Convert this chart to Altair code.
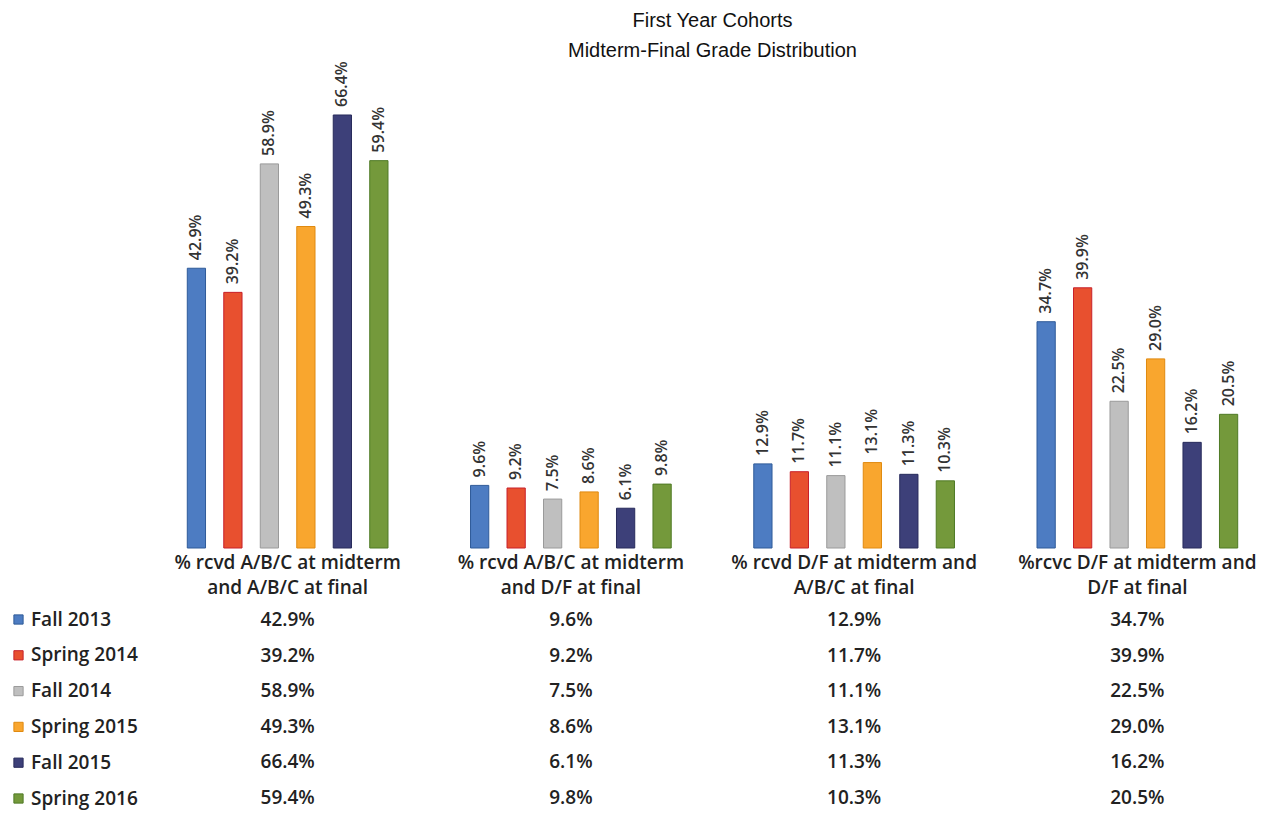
import altair as alt
import pandas as pd

groups = [
    "% rcvd A/B/C at midterm|and A/B/C at final",
    "% rcvd A/B/C at midterm|and D/F at final",
    "% rcvd D/F at midterm and|A/B/C at final",
    "%rcvc D/F at midterm and|D/F at final",
]
series = ["Fall 2013", "Spring 2014", "Fall 2014", "Spring 2015", "Fall 2015", "Spring 2016"]
fall_2013 = [42.9, 9.6, 12.9, 34.7]
spring_2014 = [39.2, 9.2, 11.7, 39.9]
fall_2014 = [58.9, 7.5, 11.1, 22.5]
spring_2015 = [49.3, 8.6, 13.1, 29.0]
fall_2015 = [66.4, 6.1, 11.3, 16.2]
spring_2016 = [59.4, 9.8, 10.3, 20.5]
fills = ["#4d7cc2", "#e8502f", "#bfbfbf", "#f9a62e", "#3d4079", "#74993b"]
strokes = ["#2f5b99", "#c8202a", "#9a9a9a", "#e08a10", "#282b5c", "#4f7a25"]

vals = [fall_2013, spring_2014, fall_2014, spring_2015, fall_2015, spring_2016]
rows = []
for s, v in zip(series, vals):
    for g, x in zip(groups, v):
        rows.append({"group": g, "series": s, "value": x})
df = pd.DataFrame(rows)

FONT = "Open Sans"

x_enc = alt.X("group:N", sort=groups,
              scale=alt.Scale(paddingInner=0.227, paddingOuter=0.05),
              axis=alt.Axis(title=None, orient="bottom", offset=-269, domain=False, ticks=False,
                            labelAngle=0, labelPadding=5, labelFontSize=19, labelFont=FONT,
                            labelFontWeight=600, labelColor="#222", labelLineHeight=25,
                            labelLimit=400, labelExpr="split(datum.label, '|')"))
xo_enc = alt.XOffset("series:N", sort=series,
                     scale=alt.Scale(paddingInner=0.5, paddingOuter=0.25))
y_scale = alt.Scale(domain=[-41.25, 73.30], zero=False, nice=False)

base = alt.Chart(df)

bars = base.mark_bar(strokeWidth=1).encode(
    x=x_enc,
    xOffset=xo_enc,
    y=alt.Y("value:Q", scale=y_scale, axis=None),
    y2=alt.Y2(datum=0),
    color=alt.Color("series:N", sort=series,
                    scale=alt.Scale(domain=series, range=fills),
                    legend=alt.Legend(title=None, orient="none", legendX=-155, legendY=540,
                                      symbolType="square", symbolSize=85,
                                      symbolStrokeWidth=1, labelFontSize=19, labelFont=FONT,
                                      labelFontWeight=600,
                                      labelColor="#222", rowPadding=15.8, labelOffset=3)),
    stroke=alt.Stroke("series:N", sort=series,
                      scale=alt.Scale(domain=series, range=strokes), legend=None),
)

labels = base.transform_calculate(
    lab="format(datum.value, '.1f') + '%'"
).mark_text(angle=270, align="left", baseline="middle", dx=8,
            font=FONT, fontSize=16, fontWeight=600, color="#333").encode(
    x=alt.X("group:N", sort=groups),
    xOffset=xo_enc,
    y=alt.Y("value:Q", scale=y_scale, axis=None),
    text="lab:N",
)

table = base.transform_calculate(
    lab="format(datum.value, '.1f') + '%'"
).mark_text(align="center", baseline="middle", font=FONT, fontSize=19, fontWeight=600,
            color="#222").encode(
    x=alt.X("group:N", sort=groups),
    y=alt.Y("series:N", sort=series,
            scale=alt.Scale(type="point", domain=series, range=[550, 728], padding=0),
            axis=None),
    text="lab:N",
)

chart = alt.layer(bars, labels, table).resolve_scale(y="independent").properties(
    width=1097, height=747,
    padding={"left": 164, "top": 70, "right": 6, "bottom": 0},
    autosize=alt.AutoSizeParams(type="none"),
    title=alt.TitleParams(
        text=["First Year Cohorts", "Midterm-Final Grade Distribution"],
        font="Liberation Sans Narrow, Arial Narrow, Liberation Sans", fontSize=20,
        fontWeight="normal", color="#111", lineHeight=30, anchor="middle", offset=0),
).configure(background="white").configure_view(stroke=None)

chart.save("out.html", embed_options={"renderer": "svg", "actions": False})
